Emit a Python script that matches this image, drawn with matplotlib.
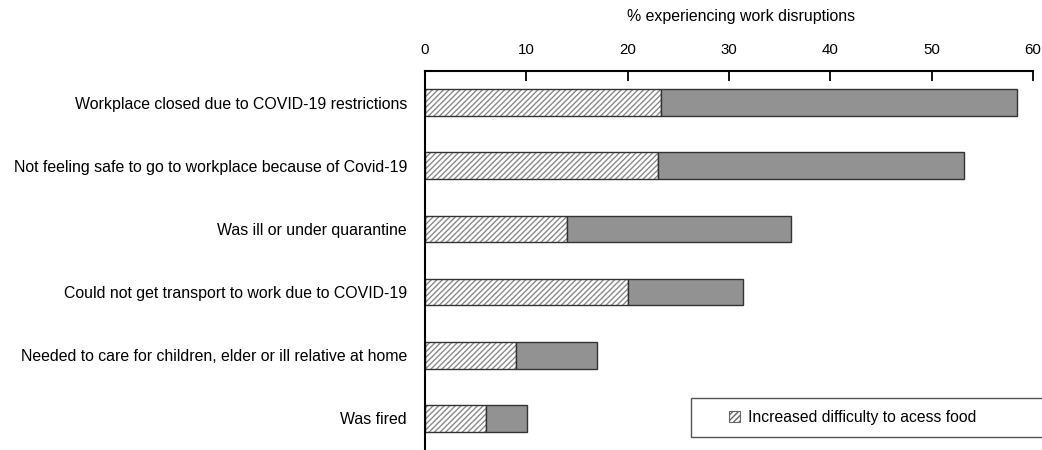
import matplotlib
matplotlib.use("Agg")
import matplotlib.pyplot as plt
from matplotlib.patches import Patch, Rectangle

plt.rcParams['font.family'] = ['Liberation Sans', 'DejaVu Sans']
plt.rcParams['hatch.linewidth'] = 1.0

categories = [
    "Workplace closed due to COVID-19 restrictions",
    "Not feeling safe to go to workplace because of Covid-19",
    "Was ill or under quarantine",
    "Could not get transport to work due to COVID-19",
    "Needed to care for children, elder or ill relative at home",
    "Was fired",
]
food_difficulty = [23.3, 23.0, 14.0, 20.0, 9.0, 6.0]
other = [35.1, 30.2, 22.1, 11.4, 8.0, 4.1]
xticks = [0, 10, 20, 30, 40, 50, 60]
xlabel = "% experiencing work disruptions"
legend_label = "Increased difficulty to acess food"

W, H = 1042, 450
fig = plt.figure(figsize=(W / 100, H / 100), dpi=100)
ax = fig.add_axes([425 / W, 0.0, 608 / W, 379 / H])

y = list(range(len(categories)))
h = 0.42
ax.barh(y, food_difficulty, height=h, color='white', edgecolor='#8a8a8a',
        hatch='//////', linewidth=0)
ax.barh(y, food_difficulty, height=h, fill=False, edgecolor='#333333', linewidth=1.0)
ax.barh(y, other, left=food_difficulty, height=h, color='#929292',
        edgecolor='#333333', linewidth=1.0)

ax.set_ylim(len(categories) - 0.5, -0.5)
ax.set_xlim(0, 60)
ax.set_xticks(xticks)
ax.xaxis.tick_top()
ax.xaxis.set_label_position('top')
ax.set_xlabel(xlabel, fontsize=11.4)
ax.xaxis.set_label_coords(0.52, 1 + (71 - 17) / 379, transform=ax.transAxes)
ax.xaxis.label.set_va('center')
ax.tick_params(axis='x', direction='in', length=7, width=1.3, labelsize=10.8, pad=10)
ax.set_yticks(y)
ax.set_yticklabels(categories, fontsize=11.4)
ax.tick_params(axis='y', length=0, pad=13)
for s in ['right', 'bottom']:
    ax.spines[s].set_visible(False)
for s in ['left', 'top']:
    ax.spines[s].set_linewidth(1.5)
    ax.spines[s].set_color('black')

# legend frame (extends past the right edge as in the reference)
frame = Rectangle((691 / W, (H - 437) / H), 400 / W, 39 / H,
                  transform=fig.transFigure, facecolor='white',
                  edgecolor='#555555', linewidth=1.0, zorder=5)
fig.add_artist(frame)

handle = Patch(facecolor='white', edgecolor='#666666', hatch='//////', linewidth=0.8)
leg = fig.legend([handle], [legend_label], loc='center left',
                 bbox_to_anchor=(729 / W, (H - 417.5) / H), frameon=False,
                 fontsize=11.3, handlelength=0.7, handleheight=0.7,
                 handletextpad=0.5, borderpad=0, borderaxespad=0)
leg.set_zorder(6)

fig.savefig("out.png", dpi=100)
